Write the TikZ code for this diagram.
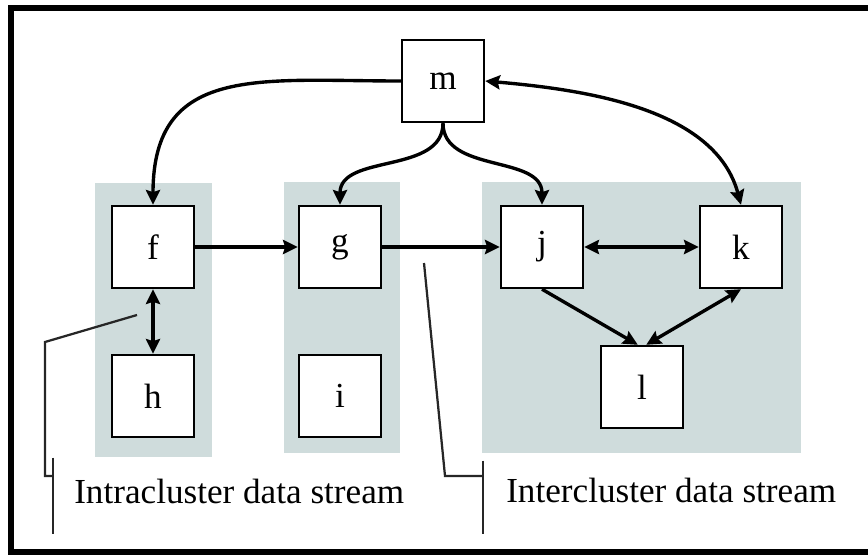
\documentclass[tikz,border=0pt]{standalone}
\usepackage{fontspec}
\setmainfont{Liberation Serif}
\usetikzlibrary{arrows.meta}
\definecolor{panelgray}{RGB}{207,220,220}
\tikzset{>={Stealth[length=10.5pt,width=10pt,inset=1.5pt]},
    box/.style={draw,fill=white,line width=1.7pt,minimum size=2.05cm,inner sep=0pt,font=\fontsize{25}{30}\selectfont},
    panel/.style={fill=panelgray},
    link/.style={line width=2.4pt},
    callout/.style={line width=1.6pt,black!85},
    caption/.style={anchor=base west,inner sep=0pt,font=\fontsize{25}{30}\selectfont}}

\begin{document}
\begin{tikzpicture}[x=0.025cm,y=0.025cm]
    \path[use as bounding box] (0,0) rectangle (868,554);
    \clip (0,0) rectangle (868,554);
    \draw[line width=4.3pt] (11,2) rectangle (880,546);
    \fill[panel] (95,97) rectangle (212,371);
    \fill[panel] (284,101) rectangle (400,372);
    \fill[panel] (482,101) rectangle (801,372);
    \node[box] (m) at (443,473) {m};
    \node[box] (f) at (153,307) {f};
    \node[box] (g) at (340,307) {g};
    \node[box] (j) at (542,307) {j};
    \node[box] (k) at (741,307) {k};
    \node[box] (h) at (153,158) {h};
    \node[box] (i) at (340,158) {i};
    \node[box] (l) at (642,167) {l};
    \draw[link,->] (m.west) to[out=180,in=90,looseness=1.3] (f.north);
    \draw[link,->] (m.south) to[out=270,in=90] (g.north);
    \draw[link,->] (m.south) to[out=270,in=90] (j.north);
    \draw[link,<->] (m.east) to[out=-5,in=105,looseness=0.9] (k.north);
    \draw[link,->] (f) -- (g);
    \draw[link,->] (g) -- (j);
    \draw[link,<->] (j) -- (k);
    \draw[link,<->] (f) -- (h);
    \draw[link,->] (j.south) -- ([xshift=-3pt]l.north);
    \draw[link,<->] ([xshift=3pt]l.north) -- (k.south);
    \node[caption] (intratext) at (74,51) {Intracluster data stream};
    \node[caption] (intertext) at (506,52) {Intercluster data stream};
    \coordinate (intra) at (137,239);
    \coordinate (inter) at (424,291);
    \coordinate (intrabar) at (53,78);
    \coordinate (interbar) at (483,78);
    \draw[callout] (intra) -- (45,212) |- (intrabar);
    \draw[callout] ([yshift=13]intrabar) -- ([yshift=-41]intrabar);
    \draw[callout] (inter) -- (445,78) -- (interbar);
    \draw[callout] ([yshift=11]interbar) -- ([yshift=-41]interbar);
\end{tikzpicture}
\end{document}
